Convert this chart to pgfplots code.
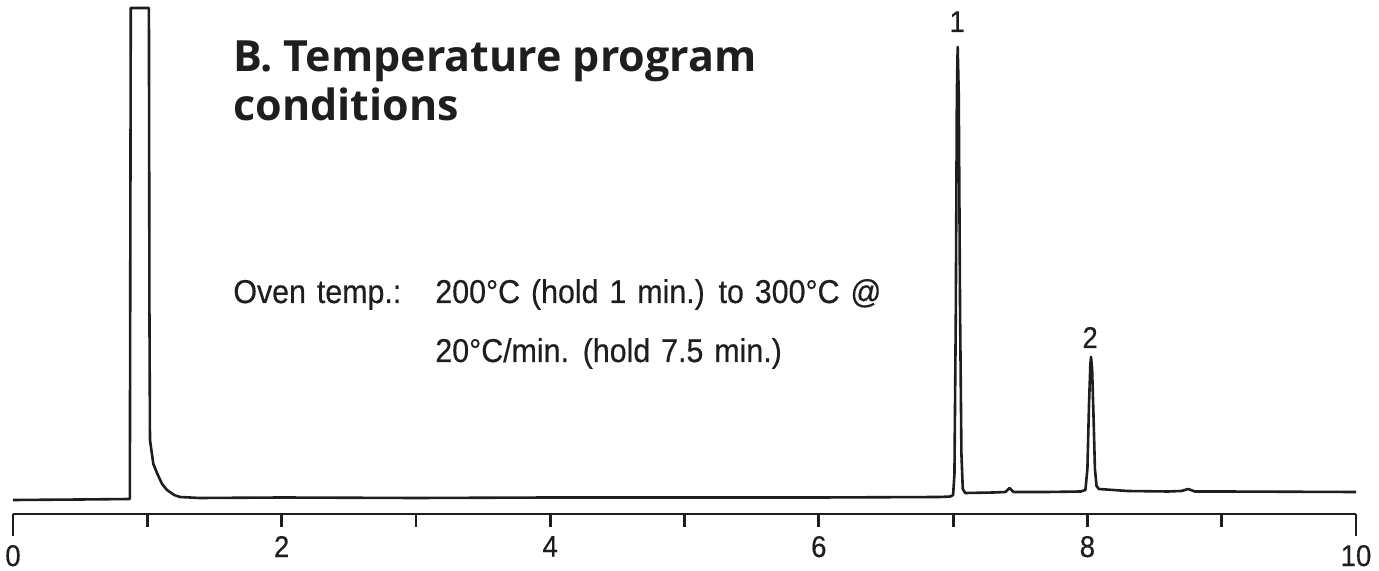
\documentclass[border=0pt]{standalone}
\usepackage{pgfplots}
\pgfplotsset{compat=1.18}
\usepackage{fontspec}
\setmainfont{Liberation Sans}[FakeStretch=0.92, WordSpace=1.3, FakeBold=0.4]
\newfontfamily\titlefont{Open Sans}[FakeStretch=1.0]
\definecolor{ink}{HTML}{1E1E1E}
\begin{document}
\begin{tikzpicture}
\useasboundingbox (-6.5pt,-28.5pt) rectangle (683pt,257pt);
\begin{axis}[
  scale only axis,
  width=671.5pt, height=257pt,
  xmin=0, xmax=10, ymin=0, ymax=514,
  axis x line*=bottom, axis y line=none,
  axis line style={line width=1.4pt, ink},
  clip=false,
  xtick={2,4,6,8},
  minor xtick={1,3,5,7,9},
  extra x ticks={0,10},
  extra tick style={major tick length=11pt},
  tick align=outside,
  major tick length=6.5pt, minor tick length=6.5pt,
  every tick/.style={line width=1.4pt, ink},
  tick label style={font=\fontsize{15}{15}\selectfont, text=ink},
  /pgf/number format/assume math mode=true,
  xticklabel style={yshift=-1pt},
]
\addplot[ink, line width=1.3pt, line join=round] table {
x y
0 14
0.5 14.5
0.87 15
0.877 506
1.012 506
1.016 200
1.02 74
1.045 50
1.072 41
1.11 30
1.147 24
1.2 19
1.243 17
1.39 16
2 16.5
3 16
4 16.5
5 16.5
6 16.5
6.9 17
6.98 17.5
7.0 19
7.01 40
7.02 200
7.028 420
7.034 467
7.042 420
7.052 200
7.062 60
7.072 25
7.09 21
7.3 21.5
7.39 22
7.42 26
7.45 22
7.7 22
7.95 22.5
7.985 24
8.0 45
8.012 110
8.022 150
8.027 157
8.035 145
8.045 100
8.056 45
8.068 28
8.085 25
8.3 23
8.6 22.5
8.7 23
8.75 25
8.8 22.5
9 22.5
10 22
};
\node[anchor=base west, inner sep=0pt, font=\titlefont\fontsize{21.5}{21.5}\selectfont\bfseries, text=ink] at (axis cs:1.638,442) {B. Temperature program};
\node[anchor=base west, inner sep=0pt, font=\titlefont\fontsize{21.5}{21.5}\selectfont\bfseries, text=ink] at (axis cs:1.638,393) {conditions};
\node[anchor=base west, inner sep=0pt, font=\fontsize{16.5}{16.5}\selectfont, text=ink] at (axis cs:1.638,211) {Oven temp.:};
\node[anchor=base west, inner sep=0pt, font=\fontsize{16.5}{16.5}\selectfont, text=ink] at (axis cs:3.142,211) {200°C (hold 1 min.) to 300°C @};
\node[anchor=base west, inner sep=0pt, font=\fontsize{16.5}{16.5}\selectfont, text=ink] at (axis cs:3.142,152) {20°C/min. (hold 7.5 min.)};
\node[anchor=base, inner sep=0pt, font=\fontsize{15}{15}\selectfont, text=ink] at (axis cs:7.03,482) {1};
\node[anchor=base, inner sep=0pt, font=\fontsize{15}{15}\selectfont, text=ink] at (axis cs:8.02,166) {2};
\end{axis}
\end{tikzpicture}
\end{document}
